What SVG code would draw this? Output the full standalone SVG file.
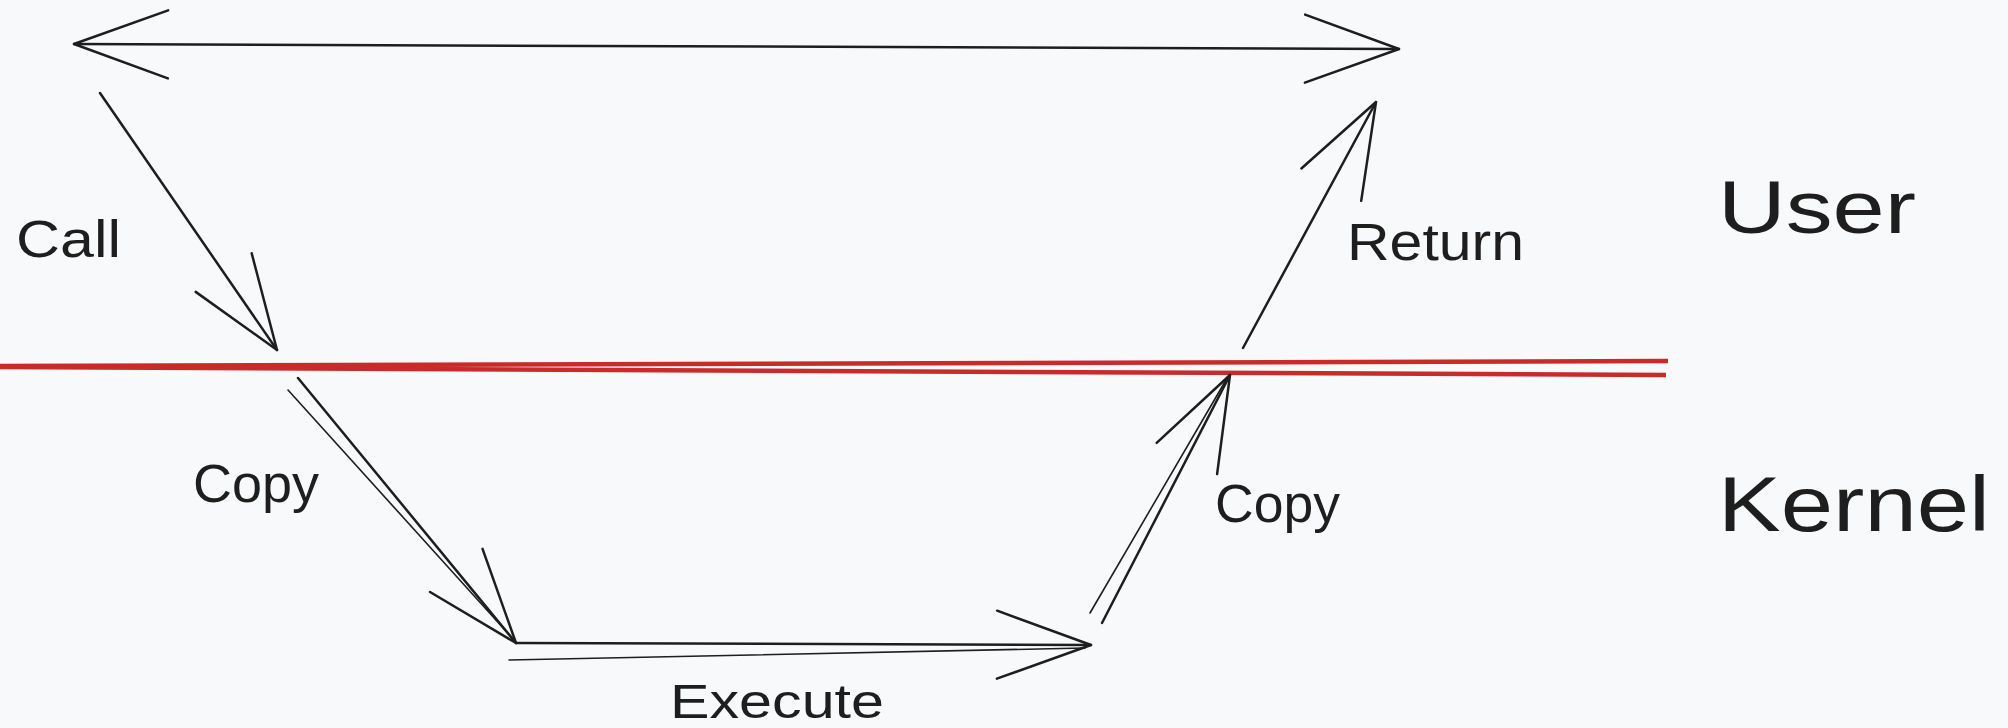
<svg xmlns="http://www.w3.org/2000/svg" width="2008" height="728" viewBox="0 0 2008 728">
<defs>
<style>
.ln{fill:none;stroke:#1e1e1e;stroke-width:2.5;stroke-linecap:round;stroke-linejoin:round}
.ln2{fill:none;stroke:#1e1e1e;stroke-width:1.6;stroke-linecap:round}
.red{fill:none;stroke:#c92a2a;stroke-width:4.5;stroke-linecap:butt}
.lbl{font-family:"Liberation Sans",Arial,sans-serif;fill:#1e1e1e}
</style>
<marker id="ah" markerUnits="userSpaceOnUse" orient="auto-start-reverse" refX="0" refY="0" markerWidth="1" markerHeight="1" overflow="visible">
<path d="M-94,-34 L0,0 L-94,34" fill="none" stroke="#1e1e1e" stroke-width="2.5" stroke-linecap="round" stroke-linejoin="round"/>
</marker>
</defs>
<rect width="2008" height="728" fill="#f8f9fa"/>
<g id="boundary">
<path class="red" d="M0,366 L1668,361"/>
<path class="red" d="M0,367 L1666,375"/>
</g>
<g id="connectors">
<path class="ln" d="M74,44 L1399,49" marker-start="url(#ah)" marker-end="url(#ah)" stroke-width="3"/>
<path class="ln" d="M100,93 L277,350" marker-end="url(#ah)"/>
<path class="ln2" d="M288,390 L514,640"/>
<path class="ln" d="M298,378 L516,643" marker-end="url(#ah)"/>
<path class="ln2" d="M509,660 L1085,648"/>
<path class="ln" d="M516,643 L1091,645" marker-end="url(#ah)" stroke-width="3"/>
<path class="ln2" d="M1090,613 L1226,380"/>
<path class="ln" d="M1102,623 L1230,375" marker-end="url(#ah)"/>
<path class="ln" d="M1243,348 L1376,102" marker-end="url(#ah)"/>
</g>
<g id="label-call"><text class="lbl" x="16" y="257" font-size="52" textLength="105" lengthAdjust="spacingAndGlyphs">Call</text></g>
<g id="label-copy-1"><text class="lbl" x="193" y="502" font-size="53" textLength="126" lengthAdjust="spacingAndGlyphs">Copy</text></g>
<g id="label-execute"><text class="lbl" x="670" y="718" font-size="49" textLength="214" lengthAdjust="spacingAndGlyphs">Execute</text></g>
<g id="label-copy-2"><text class="lbl" x="1215" y="522" font-size="53" textLength="125" lengthAdjust="spacingAndGlyphs">Copy</text></g>
<g id="label-return"><text class="lbl" x="1347" y="260" font-size="51" textLength="177" lengthAdjust="spacingAndGlyphs">Return</text></g>
<g id="label-user"><text class="lbl" x="1718" y="233" font-size="74" textLength="198" lengthAdjust="spacingAndGlyphs">User</text></g>
<g id="label-kernel"><text class="lbl" x="1718" y="531" font-size="77" textLength="272" lengthAdjust="spacingAndGlyphs">Kernel</text></g>
</svg>
